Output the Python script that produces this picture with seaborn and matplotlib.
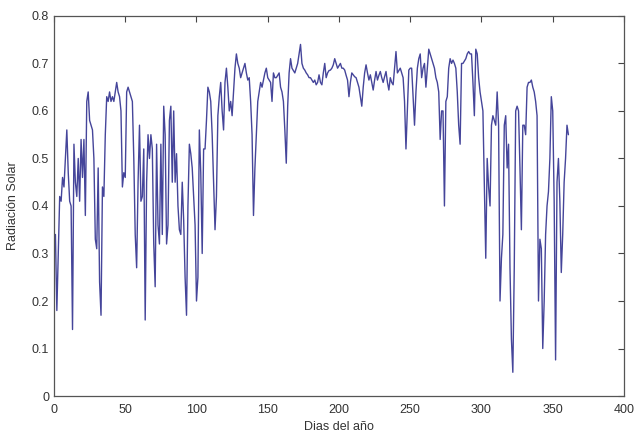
import numpy as np
import pandas as pd
import matplotlib
matplotlib.use('Agg')
import matplotlib.pyplot as plt
import seaborn as sns

# Daily solar radiation values (days 1..361)
rad_1_50 = [0.34, 0.18, 0.30, 0.42, 0.41, 0.46, 0.44, 0.50, 0.56, 0.47,
            0.41, 0.40, 0.14, 0.53, 0.45, 0.42, 0.50, 0.41, 0.54, 0.46,
            0.54, 0.38, 0.62, 0.64, 0.58, 0.57, 0.56, 0.50, 0.33, 0.31,
            0.48, 0.24, 0.17, 0.44, 0.42, 0.55, 0.63, 0.62, 0.64, 0.62,
            0.63, 0.62, 0.64, 0.66, 0.64, 0.63, 0.60, 0.44, 0.47, 0.46]
rad_51_100 = [0.64, 0.65, 0.64, 0.63, 0.62, 0.50, 0.34, 0.27, 0.45, 0.57,
              0.41, 0.42, 0.52, 0.16, 0.45, 0.55, 0.50, 0.55, 0.52, 0.32,
              0.23, 0.53, 0.36, 0.32, 0.53, 0.34, 0.61, 0.55, 0.32, 0.36,
              0.58, 0.61, 0.45, 0.60, 0.45, 0.51, 0.40, 0.35, 0.34, 0.45,
              0.37, 0.25, 0.17, 0.40, 0.53, 0.51, 0.48, 0.42, 0.36, 0.20]
rad_101_150 = [0.25, 0.56, 0.47, 0.30, 0.52, 0.52, 0.58, 0.65, 0.64, 0.62,
               0.55, 0.45, 0.35, 0.42, 0.59, 0.63, 0.66, 0.60, 0.56, 0.66,
               0.69, 0.65, 0.60, 0.62, 0.59, 0.64, 0.69, 0.72, 0.70, 0.69,
               0.67, 0.68, 0.69, 0.70, 0.68, 0.665, 0.67, 0.62, 0.55, 0.38,
               0.48, 0.55, 0.62, 0.64, 0.66, 0.65, 0.665, 0.68, 0.69, 0.67]
rad_151_200 = [0.665, 0.66, 0.62, 0.68, 0.67, 0.67, 0.675, 0.68, 0.65, 0.64,
               0.62, 0.56, 0.49, 0.61, 0.68, 0.71, 0.69, 0.685, 0.68, 0.69,
               0.70, 0.72, 0.74, 0.70, 0.69, 0.686, 0.68, 0.676, 0.67, 0.67,
               0.665, 0.66, 0.665, 0.655, 0.66, 0.676, 0.66, 0.655, 0.68, 0.70,
               0.67, 0.68, 0.685, 0.686, 0.69, 0.697, 0.71, 0.70, 0.69, 0.695]
rad_201_250 = [0.70, 0.69, 0.69, 0.686, 0.675, 0.665, 0.63, 0.66, 0.68, 0.676,
               0.672, 0.67, 0.66, 0.65, 0.63, 0.61, 0.65, 0.68, 0.697, 0.68,
               0.665, 0.676, 0.66, 0.644, 0.665, 0.683, 0.665, 0.675, 0.683, 0.67,
               0.66, 0.672, 0.683, 0.66, 0.644, 0.67, 0.66, 0.655, 0.69, 0.725,
               0.68, 0.685, 0.69, 0.68, 0.67, 0.62, 0.52, 0.60, 0.686, 0.69]
rad_251_300 = [0.69, 0.63, 0.57, 0.64, 0.69, 0.71, 0.72, 0.67, 0.69, 0.70,
               0.65, 0.69, 0.73, 0.72, 0.71, 0.70, 0.69, 0.67, 0.66, 0.64,
               0.54, 0.60, 0.60, 0.40, 0.62, 0.63, 0.69, 0.71, 0.70, 0.707,
               0.70, 0.69, 0.64, 0.57, 0.53, 0.70, 0.70, 0.705, 0.71, 0.72,
               0.725, 0.72, 0.72, 0.66, 0.59, 0.73, 0.72, 0.67, 0.64, 0.62]
rad_301_361 = [0.60, 0.45, 0.29, 0.50, 0.44, 0.40, 0.57, 0.59, 0.58, 0.57,
               0.64, 0.57, 0.20, 0.29, 0.34, 0.57, 0.59, 0.48, 0.53, 0.27,
               0.12, 0.05, 0.27, 0.60, 0.61, 0.60, 0.48, 0.35, 0.57, 0.57,
               0.55, 0.65, 0.66, 0.66, 0.665, 0.65, 0.64, 0.62, 0.59, 0.20,
               0.33, 0.31, 0.10, 0.20, 0.34, 0.40, 0.43, 0.50, 0.63, 0.60,
               0.41, 0.076, 0.45, 0.50, 0.41, 0.26, 0.34, 0.45, 0.50, 0.57,
               0.55]

radiacion = rad_1_50 + rad_51_100 + rad_101_150 + rad_151_200 + rad_201_250 + rad_251_300 + rad_301_361
dias = list(range(1, len(radiacion) + 1))

x_ticks = [0, 50, 100, 150, 200, 250, 300, 350, 400]
y_ticks = [0, 0.1, 0.2, 0.3, 0.4, 0.5, 0.6, 0.7, 0.8]

df = pd.DataFrame({'dia': dias, 'rad': radiacion})

sns.set_style('white')
plt.rcParams['font.family'] = ['Liberation Sans', 'DejaVu Sans']

fig = plt.figure(figsize=(6.39, 4.42), dpi=100)
ax = fig.add_axes([0.0845, 0.104, 0.892, 0.86])

sns.lineplot(data=df, x='dia', y='rad', ax=ax, color='#45459a', linewidth=1.0)

ax.set_xlim(0, 400)
ax.set_ylim(0, 0.8)
ax.set_xticks(x_ticks)
ax.set_yticks(y_ticks)
ax.set_xticklabels([str(t) for t in x_ticks])
ax.set_yticklabels(['0'] + [f'{t:.1f}' for t in y_ticks[1:]])
ax.tick_params(direction='in', top=True, right=True, length=4, width=0.8,
               colors='#444444', labelsize=9, labelcolor='#333333')
ax.tick_params(axis='x', pad=6)
for s in ax.spines.values():
    s.set_color('#555555')
    s.set_linewidth(0.9)

ax.set_xlabel('Dias del año', fontsize=9, color='#333333', labelpad=3)
ax.set_ylabel('Radiación Solar', fontsize=9, color='#333333', labelpad=9)

fig.savefig('out.png', dpi=100, facecolor='white')
